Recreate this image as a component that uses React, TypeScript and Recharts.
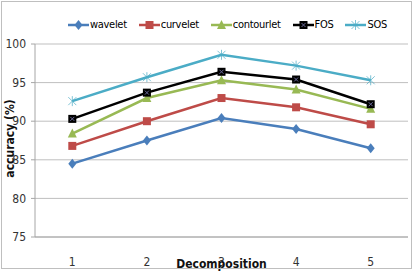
import React from "react";
import { LineChart, Line, XAxis, YAxis, CartesianGrid } from "recharts";

const decompositions = [1, 2, 3, 4, 5];
const wavelet = [84.5, 87.5, 90.4, 89.0, 86.5];
const curvelet = [86.8, 90.0, 93.0, 91.8, 89.6];
const contourlet = [88.4, 93.0, 95.3, 94.1, 91.6];
const fos = [90.3, 93.7, 96.4, 95.4, 92.2];
const sos = [92.6, 95.7, 98.6, 97.2, 95.3];
const yTicks = [75, 80, 85, 90, 95, 100];

const data = decompositions.map((d, i) => ({
  d,
  wavelet: wavelet[i],
  curvelet: curvelet[i],
  contourlet: contourlet[i],
  FOS: fos[i],
  SOS: sos[i],
}));

const FONT = "'Liberation Sans Narrow', 'DejaVu Sans Condensed', Arial, sans-serif";
const AXIS_COLOR = "#a6a6a6";

type Shape = "diamond" | "square" | "triangle" | "xsquare" | "star";

const series: { key: string; color: string; shape: Shape }[] = [
  { key: "wavelet", color: "#4a7ebb", shape: "diamond" },
  { key: "curvelet", color: "#be4b48", shape: "square" },
  { key: "contourlet", color: "#98b954", shape: "triangle" },
  { key: "FOS", color: "#000000", shape: "xsquare" },
  { key: "SOS", color: "#4bacc6", shape: "star" },
];

function Marker({ cx, cy, shape, color }: { cx: number; cy: number; shape: Shape; color: string }) {
  if (cx == null || cy == null) return null;
  const s = 4;
  switch (shape) {
    case "diamond":
      return <path d={`M${cx},${cy - s - 1}L${cx + s},${cy}L${cx},${cy + s + 1}L${cx - s},${cy}Z`} fill={color} />;
    case "square":
      return <rect x={cx - s} y={cy - s} width={s * 2} height={s * 2} fill={color} />;
    case "triangle":
      return <path d={`M${cx},${cy - s - 1}L${cx + s + 0.5},${cy + s}L${cx - s - 0.5},${cy + s}Z`} fill={color} />;
    case "xsquare":
      return (
        <g>
          <rect x={cx - s} y={cy - s} width={s * 2} height={s * 2} fill={color} />
          <path d={`M${cx - 2},${cy - 2}L${cx + 2},${cy + 2}M${cx + 2},${cy - 2}L${cx - 2},${cy + 2}`} stroke="#6a6a9a" strokeWidth={1} />
        </g>
      );
    case "star":
      return (
        <path
          d={`M${cx - s},${cy - s}L${cx + s},${cy + s}M${cx + s},${cy - s}L${cx - s},${cy + s}M${cx},${cy - s - 1}L${cx},${cy + s + 1}`}
          stroke={color}
          strokeWidth={1}
          opacity={0.7}
        />
      );
  }
  return null;
}

const ChartLegend = () => (
  <div
    style={{
      position: "absolute",
      left: 68,
      top: 18,
      display: "flex",
      fontFamily: FONT,
      fontSize: 11,
      letterSpacing: -0.3,
      color: "#000",
      whiteSpace: "nowrap",
    }}
  >
    {series.map((s, i) => (
      <div key={s.key} style={{ display: "flex", alignItems: "center", marginRight: i < series.length - 1 ? 12 : 0 }}>
        <svg width={21} height={10}>
          <line x1={0} y1={5} x2={21} y2={5} stroke={s.color} strokeWidth={2.5} />
          <Marker cx={10.5} cy={5} shape={s.shape} color={s.color} />
        </svg>
        <span style={{ marginLeft: 1 }}>{s.key}</span>
      </div>
    ))}
  </div>
);

const YLabel = (props: any) => {
  const vb = props.viewBox || {};
  const cy = (vb.y ?? 44) + (vb.height ?? 193) / 2 - 2;
  return (
    <text
      x={10}
      y={cy}
      transform={`rotate(-90, 10, ${cy})`}
      textAnchor="middle"
      dominantBaseline="central"
      style={{ fontSize: 12, fontWeight: "bold", fill: "#111", fontFamily: FONT }}
    >
      accuracy (%)
    </text>
  );
};

export default function App() {
  return (
    <div style={{ position: "absolute", left: 0, top: 0, width: 415, height: 272, background: "#fff" }}>
      <div
        style={{
          position: "absolute",
          left: 1,
          top: 1,
          width: 411,
          height: 268,
          border: "1px solid #bfbfbf",
          boxSizing: "border-box",
          pointerEvents: "none",
          zIndex: 2,
        }}
      />
      <ChartLegend />
      <LineChart width={415} height={272} data={data} margin={{ top: 44, right: 7, bottom: 0, left: 0 }}>
        <CartesianGrid vertical={false} stroke="#bfbfbf" strokeWidth={1} />
        <XAxis
          dataKey="d"
          type="number"
          domain={[0.5, 5.5]}
          ticks={decompositions}
          tickLine={false}
          axisLine={{ stroke: AXIS_COLOR }}
          height={35}
          tick={{ fontSize: 12, fill: "#333", fontFamily: FONT }}
          tickMargin={14}
          label={{
            value: "Decomposition",
            position: "insideBottom",
            offset: 4,
            style: { fontSize: 12, fontWeight: "bold", fill: "#111", fontFamily: FONT },
          }}
        />
        <XAxis
          xAxisId="b"
          dataKey="d"
          type="number"
          domain={[0.5, 5.5]}
          ticks={[0.5, 1.5, 2.5, 3.5, 4.5, 5.5]}
          tick={false}
          tickLine={{ stroke: AXIS_COLOR }}
          tickSize={5}
          axisLine={false}
          height={0}
        />
        <YAxis
          domain={[75, 100]}
          ticks={yTicks}
          width={35}
          tickSize={4}
          tickMargin={5}
          tickLine={{ stroke: AXIS_COLOR }}
          axisLine={{ stroke: AXIS_COLOR }}
          tick={{ fontSize: 12, fill: "#333", fontFamily: FONT }}
          label={<YLabel />}
        />
        {series.map((s) => (
          <Line
            key={s.key}
            dataKey={s.key}
            stroke={s.color}
            strokeWidth={2.5}
            isAnimationActive={false}
            dot={(p: any) => <Marker key={`${s.key}-${p.index}`} cx={p.cx} cy={p.cy} shape={s.shape} color={s.color} />}
            activeDot={false}
          />
        ))}
      </LineChart>
    </div>
  );
}
